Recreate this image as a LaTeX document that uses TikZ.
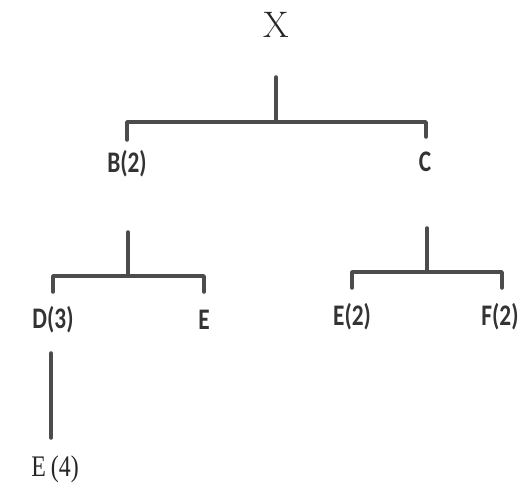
\documentclass[tikz,border=0pt]{standalone}
\usepackage{fontspec}
\newfontfamily\lblfont[FakeStretch=0.78]{Carlito}
\newfontfamily\tnrfont[FakeStretch=0.8]{Liberation Serif}
\begin{document}
\begin{tikzpicture}[x=0.02cm, y=-0.02cm, line join=round, line cap=round]
	\tikzset{
		lbl/.style={font=\lblfont\bfseries\fontsize{17}{17}\selectfont, text=black!80, inner sep=0pt},
		srf/.style={font=\tnrfont\fontsize{17}{17}\selectfont, text=black!85, inner sep=0pt},
		edge/.style={draw=black!70, line width=2pt}
	}
	\useasboundingbox (0,0) rectangle (521,490);
	
	% Các nút
	\node[srf, font=\rmfamily\fontsize{21}{21}\selectfont] (X) at (276,25) {X};
	\node[lbl] (B) at (127,164) {B(2)};
	\node[lbl] (C) at (425,162) {C};
	\node[lbl] (D) at (53,320) {D(3)};
	\node[lbl] (E) at (204,320) {E};
	\node[lbl] (E2) at (352,317) {E(2)};
	\node[lbl] (F) at (500,317) {F(2)};
	\node[srf] (E4) at (55,469) {E\,(4)};
	
	% Điểm đầu mút của các nhánh
	\coordinate (xtop) at (276,77);
	\coordinate (xbar) at (276,122);
	\coordinate (btick) at (127,140);
	\coordinate (ctick) at (426,137);
	\coordinate (btop) at (128,232);
	\coordinate (bbar) at (128,276);
	\coordinate (dtick) at (53,292);
	\coordinate (etick) at (204,292);
	\coordinate (ctop) at (427,228);
	\coordinate (cbar) at (427,272);
	\coordinate (e2tick) at (352,288);
	\coordinate (ftick) at (502,288);
	\coordinate (dtop) at (51,353);
	\coordinate (dbot) at (51,438);
	
	% Vẽ các nhánh
	\draw[edge] (xtop) -- (xbar);
	\draw[edge] (btick) |- (xbar) -| (ctick);
	\draw[edge] (btop) -- (bbar);
	\draw[edge] (dtick) |- (bbar) -| (etick);
	\draw[edge] (ctop) -- (cbar);
	\draw[edge] (e2tick) |- (cbar) -| (ftick);
	\draw[edge] (dtop) -- (dbot);
\end{tikzpicture}
\end{document}
